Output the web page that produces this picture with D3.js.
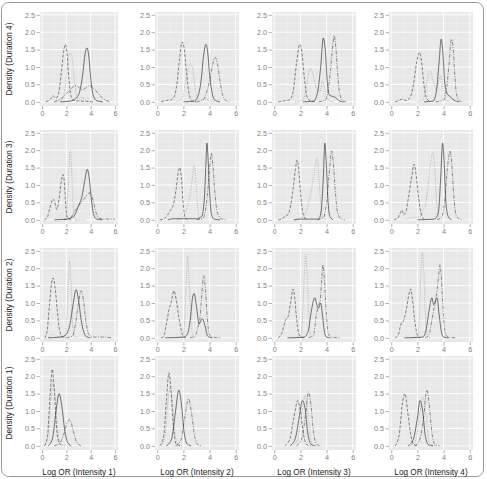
<!DOCTYPE html>
<html><head><meta charset="utf-8">
<script src="https://cdn.jsdelivr.net/npm/d3@7"></script>
<style>body{margin:0;background:#fff} svg{display:block}</style>
</head><body><svg id="c" width="487" height="479"></svg>
<script>
// ---------- DATA ----------
const durations = ["Duration 4", "Duration 3", "Duration 2", "Duration 1"];
const intensities = ["Intensity 1", "Intensity 2", "Intensity 3", "Intensity 4"];
const xTicks = [0, 2, 4, 6];
const yTicks = [0, 0.5, 1.0, 1.5, 2.0, 2.5];
const lineTypes = ["solid", "dashed", "dotted", "dotdash"];

// Duration 4 (one entry per intensity; each is a list of [logOR, density] points)
const d4Solid = [
  [[1.5,0],[2.3,0.02],[2.8,0.1],[3.1,0.3],[3.35,0.8],[3.55,1.4],[3.7,1.55],[3.85,1.3],[4.0,0.7],[4.2,0.2],[4.5,0.03],[5.0,0]],
  [[2.0,0],[2.8,0.02],[3.1,0.15],[3.35,0.6],[3.55,1.35],[3.72,1.65],[3.85,1.45],[4.0,0.8],[4.2,0.25],[4.4,0.05],[4.8,0]],
  [[2.2,0],[3.0,0.02],[3.3,0.25],[3.55,1.0],[3.75,1.83],[3.9,1.5],[4.05,0.6],[4.2,0.2],[4.5,0.15],[4.7,0.12],[5.0,0.02],[5.3,0]],
  [[2.5,0],[3.2,0.02],[3.45,0.3],[3.65,1.1],[3.82,1.8],[3.95,1.4],[4.1,0.5],[4.3,0.22],[4.5,0.15],[4.8,0.05],[5.2,0]]
];
const d4Dashed = [
  [[0.3,0],[0.7,0.08],[0.9,0.17],[1.15,0.1],[1.4,0.3],[1.6,0.9],[1.8,1.5],[1.92,1.65],[2.05,1.4],[2.2,0.7],[2.4,0.15],[2.7,0.03],[3.2,0.02],[4.2,0]],
  [[0.3,0],[0.7,0.04],[1.0,0.05],[1.3,0.15],[1.5,0.5],[1.7,1.2],[1.9,1.72],[2.05,1.55],[2.25,0.8],[2.45,0.2],[2.7,0.02],[3.0,0]],
  [[0.3,0],[0.8,0.03],[1.2,0.06],[1.45,0.3],[1.7,1.1],[1.95,1.65],[2.1,1.45],[2.3,0.7],[2.5,0.15],[2.8,0.02],[3.2,0]],
  [[0.3,0],[0.6,0.04],[0.85,0.08],[1.1,0.04],[1.4,0.1],[1.7,0.5],[1.95,1.15],[2.15,1.42],[2.3,1.2],[2.5,0.5],[2.7,0.1],[3.0,0]]
];
const d4Dotted = [
  [[1.0,0],[1.6,0.05],[1.9,0.4],[2.1,1.1],[2.3,1.4],[2.45,1.3],[2.6,0.8],[2.8,0.25],[3.0,0.08],[3.3,0.12],[3.6,0.05],[4.0,0]],
  [[1.4,0],[1.9,0.1],[2.15,0.5],[2.4,1.0],[2.55,1.1],[2.7,0.95],[2.9,0.4],[3.1,0.1],[3.4,0.05],[3.7,0.1],[4.0,0.02],[4.4,0]],
  [[1.6,0],[2.2,0.05],[2.45,0.4],[2.65,0.85],[2.8,0.95],[2.95,0.8],[3.2,0.4],[3.5,0.3],[3.7,0.6],[3.85,0.35],[4.1,0.05],[4.5,0]],
  [[2.0,0],[2.4,0.05],[2.65,0.4],[2.85,0.8],[3.0,0.88],[3.2,0.6],[3.45,0.35],[3.65,0.6],[3.78,0.75],[3.95,0.4],[4.2,0.05],[4.5,0]]
];
const d4Dotdash = [
  [[1.0,0],[1.6,0.1],[2.2,0.3],[2.7,0.46],[3.0,0.42],[3.3,0.35],[3.6,0.4],[3.9,0.47],[4.2,0.4],[4.6,0.25],[5.0,0.1],[5.6,0]],
  [[3.0,0],[3.5,0.05],[3.8,0.3],[4.0,0.6],[4.2,1.0],[4.42,1.28],[4.6,1.1],[4.8,0.6],[5.0,0.2],[5.2,0.05],[5.5,0]],
  [[3.4,0],[3.9,0.05],[4.1,0.3],[4.3,0.9],[4.5,1.7],[4.58,1.9],[4.7,1.6],[4.85,0.8],[5.0,0.25],[5.2,0.05],[5.5,0]],
  [[3.4,0],[4.0,0.05],[4.2,0.3],[4.4,1.0],[4.6,1.8],[4.72,1.6],[4.85,0.8],[5.0,0.2],[5.2,0.03],[5.5,0]]
];

// Duration 3
const d3Solid = [
  [[1.0,0],[2.0,0.02],[2.6,0.1],[3.0,0.4],[3.3,0.7],[3.5,1.1],[3.72,1.45],[3.88,1.2],[4.05,0.6],[4.25,0.15],[4.5,0.02],[5.0,0]],
  [[0.8,0],[1.2,0.03],[3.0,0.03],[3.4,0.1],[3.6,0.6],[3.72,1.6],[3.8,2.2],[3.88,1.8],[4.0,0.8],[4.15,0.15],[4.35,0.02],[4.8,0]],
  [[1.5,0],[2.0,0.02],[3.4,0.02],[3.6,0.3],[3.75,1.2],[3.87,2.2],[3.97,1.7],[4.1,0.6],[4.25,0.1],[4.5,0]],
  [[2.0,0],[3.3,0.02],[3.6,0.2],[3.78,1.2],[3.93,2.2],[4.05,1.6],[4.18,0.5],[4.35,0.1],[4.6,0]]
];
const d3Dashed = [
  [[0.2,0],[0.4,0.05],[0.65,0.35],[0.9,0.6],[1.05,0.5],[1.22,0.3],[1.4,0.6],[1.6,1.15],[1.73,1.3],[1.85,1.0],[1.95,0.4],[2.1,0.05],[2.4,0]],
  [[0.2,0],[0.5,0.02],[0.8,0.15],[1.05,0.3],[1.25,0.45],[1.45,0.9],[1.6,1.35],[1.72,1.5],[1.85,1.2],[1.98,0.5],[2.1,0.1],[2.3,0]],
  [[0.3,0],[0.6,0.03],[0.85,0.1],[1.05,0.15],[1.25,0.4],[1.45,0.9],[1.62,1.45],[1.75,1.72],[1.88,1.4],[2.05,0.6],[2.25,0.12],[2.5,0]],
  [[0.2,0],[0.5,0.05],[0.7,0.2],[0.82,0.28],[0.95,0.15],[1.1,0.2],[1.3,0.6],[1.55,1.2],[1.75,1.6],[1.9,1.3],[2.1,0.6],[2.35,0.1],[2.6,0]]
];
const d3Dotted = [
  [[1.5,0],[1.95,0.05],[2.1,0.6],[2.22,1.5],[2.32,2.0],[2.42,1.6],[2.52,0.7],[2.65,0.1],[2.8,0],[3.5,0]],
  [[1.5,0],[1.9,0.05],[2.2,0.25],[2.45,0.6],[2.65,1.1],[2.82,1.55],[2.95,1.2],[3.05,0.5],[3.2,0.05],[3.5,0]],
  [[1.5,0],[2.2,0.08],[2.45,0.25],[2.7,0.6],[2.95,1.1],[3.15,1.6],[3.27,1.78],[3.4,1.3],[3.55,0.5],[3.7,0.1],[4.0,0]],
  [[1.0,0],[1.5,0.05],[2.2,0.08],[2.4,0.27],[2.6,0.4],[2.8,0.9],[3.0,1.6],[3.18,1.95],[3.32,1.5],[3.45,0.6],[3.6,0.1],[3.9,0]]
];
const d3Dotdash = [
  [[1.8,0],[2.3,0.05],[2.7,0.25],[3.1,0.45],[3.5,0.62],[3.95,0.78],[4.2,0.55],[4.45,0.2],[4.7,0.05],[5.2,0.02],[6.0,0.02]],
  [[3.0,0],[3.5,0.05],[3.7,0.3],[3.9,1.0],[4.05,1.7],[4.13,1.92],[4.25,1.6],[4.4,0.8],[4.6,0.2],[4.9,0.03],[5.3,0]],
  [[3.3,0],[3.8,0.08],[4.0,0.5],[4.2,1.3],[4.38,1.98],[4.5,1.7],[4.65,0.9],[4.85,0.2],[5.1,0.03],[5.4,0]],
  [[3.5,0],[3.9,0.1],[4.1,0.6],[4.3,1.5],[4.5,1.98],[4.63,1.6],[4.78,0.7],[4.95,0.15],[5.2,0.02],[5.5,0]]
];

// Duration 2
const d2Solid = [
  [[0.5,0],[1.5,0.02],[2.0,0.1],[2.3,0.4],[2.55,0.95],[2.8,1.38],[3.0,1.1],[3.2,0.55],[3.45,0.15],[3.7,0.02],[4.0,0]],
  [[0.6,0],[2.0,0.02],[2.3,0.1],[2.55,0.6],[2.72,1.2],[2.82,1.27],[3.0,0.9],[3.2,0.4],[3.45,0.55],[3.65,0.35],[3.85,0.05],[4.2,0]],
  [[1.0,0],[2.3,0.02],[2.6,0.2],[2.85,0.8],[3.1,1.15],[3.3,0.9],[3.38,0.85],[3.55,1.0],[3.7,0.6],[3.85,0.15],[4.0,0.02],[4.3,0]],
  [[1.0,0],[2.4,0.02],[2.65,0.2],[2.9,0.8],[3.1,1.15],[3.25,0.95],[3.5,1.15],[3.65,0.7],[3.85,0.15],[4.0,0.02],[4.4,0]]
];
const d2Dashed = [
  [[0.2,0],[0.4,0.15],[0.6,0.9],[0.8,1.6],[0.9,1.72],[1.05,1.5],[1.25,0.8],[1.45,0.2],[1.7,0.02],[2.0,0]],
  [[0.3,0],[0.5,0.05],[0.7,0.4],[0.9,0.8],[1.05,1.0],[1.28,1.35],[1.45,1.1],[1.65,0.6],[1.85,0.2],[2.0,0.02],[2.3,0]],
  [[0.3,0],[0.6,0.15],[0.85,0.5],[1.05,0.6],[1.25,1.0],[1.44,1.4],[1.55,1.2],[1.7,0.6],[1.85,0.15],[2.05,0.02],[2.3,0]],
  [[0.3,0],[0.55,0.1],[0.75,0.4],[0.95,0.5],[1.15,0.8],[1.35,1.25],[1.49,1.4],[1.62,1.1],[1.8,0.5],[1.98,0.1],[2.2,0]]
];
const d2Dotted = [
  [[0.3,0],[0.7,0.05],[0.9,0.12],[1.1,0.05],[1.9,0.03],[2.05,0.6],[2.17,1.7],[2.27,2.2],[2.38,1.6],[2.5,0.5],[2.65,0.05],[3.0,0]],
  [[1.5,0],[1.95,0.05],[2.1,0.5],[2.22,1.6],[2.32,2.35],[2.42,1.8],[2.55,0.7],[2.7,0.1],[2.9,0]],
  [[1.6,0],[2.0,0.03],[2.15,0.5],[2.3,1.8],[2.41,2.4],[2.52,1.8],[2.65,0.6],[2.8,0.05],[3.0,0]],
  [[1.5,0],[2.05,0.05],[2.15,0.6],[2.27,1.9],[2.38,2.45],[2.5,1.8],[2.62,0.6],[2.75,0.05],[3.0,0]]
];
const d2Dotdash = [
  [[2.0,0],[2.5,0.05],[2.75,0.4],[3.0,1.0],[3.22,1.35],[3.4,1.1],[3.6,0.5],[3.85,0.1],[4.2,0.02],[5.0,0.02],[5.8,0]],
  [[2.5,0],[2.9,0.05],[3.1,0.3],[3.25,0.5],[3.4,1.2],[3.55,1.78],[3.68,1.4],[3.82,0.6],[3.98,0.1],[4.2,0.02],[4.9,0]],
  [[2.6,0],[3.0,0.08],[3.2,0.6],[3.35,0.9],[3.5,1.05],[3.62,1.6],[3.72,2.1],[3.85,1.6],[4.0,0.6],[4.15,0.1],[4.4,0.02],[5.0,0]],
  [[2.6,0],[2.9,0.1],[3.1,0.5],[3.3,0.9],[3.45,1.2],[3.6,1.7],[3.73,2.1],[3.85,1.6],[4.0,0.6],[4.15,0.1],[4.4,0.02],[5.0,0]]
];

// Duration 1
const d1Solid = [
  [[0.5,0],[0.85,0.2],[1.15,1.0],[1.4,1.5],[1.6,1.2],[1.85,0.5],[2.1,0.1],[2.4,0]],
  [[0.7,0],[1.1,0.2],[1.4,1.0],[1.65,1.6],[1.85,1.2],[2.05,0.4],[2.3,0.05],[2.6,0]],
  [[1.2,0],[1.6,0.2],[1.9,0.8],[2.15,1.3],[2.35,1.1],[2.55,0.4],[2.8,0.05],[3.1,0]],
  [[1.3,0],[1.7,0.2],[2.0,0.8],[2.2,1.3],[2.4,1.0],[2.6,0.3],[2.85,0.03],[3.2,0]]
];
const d1Dashed = [
  [[0.2,0],[0.45,0.3],[0.65,1.4],[0.85,2.2],[1.0,1.6],[1.2,0.5],[1.4,0.08],[1.7,0]],
  [[0.2,0],[0.5,0.3],[0.7,1.3],[0.9,2.1],[1.05,1.6],[1.25,0.5],[1.45,0.05],[1.8,0]],
  [[0.8,0],[1.2,0.2],[1.5,0.8],[1.8,1.3],[2.0,1.0],[2.25,0.3],[2.5,0.03],[2.8,0]],
  [[0.3,0],[0.6,0.3],[0.85,1.2],[1.05,1.5],[1.25,1.0],[1.5,0.3],[1.75,0.03],[2.1,0]]
];
const d1Dotted = [
  [[0.2,0],[0.5,0.3],[0.75,1.4],[0.95,1.8],[1.1,1.3],[1.3,0.4],[1.55,0.05],[1.9,0]],
  [[0.3,0],[0.6,0.3],[0.8,1.2],[1.0,1.7],[1.15,1.3],[1.35,0.4],[1.6,0.05],[1.9,0]],
  [[1.4,0],[1.8,0.2],[2.1,0.9],[2.35,1.45],[2.55,1.0],[2.75,0.3],[3.0,0.02],[3.3,0]],
  [[1.5,0],[1.9,0.2],[2.2,1.0],[2.45,1.4],[2.65,0.9],[2.85,0.2],[3.1,0.02],[3.4,0]]
];
const d1Dotdash = [
  [[1.0,0],[1.5,0.1],[1.85,0.4],[2.1,0.7],[2.3,0.75],[2.55,0.45],[2.85,0.1],[3.2,0]],
  [[1.4,0],[1.8,0.15],[2.1,0.8],[2.4,1.35],[2.6,1.0],[2.85,0.3],[3.1,0.03],[3.4,0]],
  [[1.7,0],[2.1,0.2],[2.4,0.9],[2.62,1.55],[2.8,1.2],[3.0,0.4],[3.25,0.04],[3.6,0]],
  [[1.8,0],[2.2,0.2],[2.5,0.9],[2.72,1.6],[2.9,1.2],[3.1,0.4],[3.35,0.04],[3.7,0]]
];

// table built from the named arrays
const curveTable = [
  {solid: d4Solid, dashed: d4Dashed, dotted: d4Dotted, dotdash: d4Dotdash},
  {solid: d3Solid, dashed: d3Dashed, dotted: d3Dotted, dotdash: d3Dotdash},
  {solid: d2Solid, dashed: d2Dashed, dotted: d2Dotted, dotdash: d2Dotdash},
  {solid: d1Solid, dashed: d1Dashed, dotted: d1Dotted, dotdash: d1Dotdash}
];

// ---------- LAYOUT / STYLE ----------
const colX = [[40,118],[155,239],[272,356],[389,473]];
const rowY = [[12,106],[130,224],[248,342],[356,450]];
const xDomain = [-0.17, 6.25];
const yDomain = [-0.12, 2.58];
const styles = {
  solid:   {stroke:"#2a2a2a", dash:null,        w:0.65},
  dashed:  {stroke:"#444444", dash:"3,1.6",     w:0.65},
  dotted:  {stroke:"#a8a8a8", dash:"1,1.3",     w:0.8},
  dotdash: {stroke:"#505050", dash:"3.5,1.4,1,1.4", w:0.65}
};
const font = "'Liberation Sans', Arial, Helvetica, sans-serif";

const svg = d3.select("#c");
svg.append("rect").attr("x",1.5).attr("y",2.5).attr("width",482).attr("height",474)
  .attr("rx",7).attr("fill","none").attr("stroke","#9a9a9a").attr("stroke-width",1);

durations.forEach((dur, r) => {
  intensities.forEach((inten, c) => {
    const x = d3.scaleLinear().domain(xDomain).range(colX[c]);
    const y = d3.scaleLinear().domain(yDomain).range([rowY[r][1], rowY[r][0]]);
    const g = svg.append("g");
    g.append("rect").attr("x",colX[c][0]).attr("y",rowY[r][0])
      .attr("width",colX[c][1]-colX[c][0]).attr("height",rowY[r][1]-rowY[r][0]).attr("fill","#e8e8e8");
    const xMinor = [1,3,5], yMinor = [0.25,0.75,1.25,1.75,2.25];
    g.selectAll(null).data(xMinor).join("line").attr("x1",d=>x(d)).attr("x2",d=>x(d))
      .attr("y1",rowY[r][0]).attr("y2",rowY[r][1]).attr("stroke","#f2f2f2").attr("stroke-width",0.5);
    g.selectAll(null).data(yMinor).join("line").attr("y1",d=>y(d)).attr("y2",d=>y(d))
      .attr("x1",colX[c][0]).attr("x2",colX[c][1]).attr("stroke","#f2f2f2").attr("stroke-width",0.5);
    g.selectAll(null).data(xTicks).join("line").attr("x1",d=>x(d)).attr("x2",d=>x(d))
      .attr("y1",rowY[r][0]).attr("y2",rowY[r][1]).attr("stroke","#fff").attr("stroke-width",0.9);
    g.selectAll(null).data(yTicks).join("line").attr("y1",d=>y(d)).attr("y2",d=>y(d))
      .attr("x1",colX[c][0]).attr("x2",colX[c][1]).attr("stroke","#fff").attr("stroke-width",0.9);

    const ax = g.append("g").attr("transform",`translate(0,${rowY[r][1]})`)
      .call(d3.axisBottom(x).tickValues(xTicks).tickFormat(d3.format("d")).tickSize(3.5).tickPadding(1.5));
    const ay = g.append("g").attr("transform",`translate(${colX[c][0]},0)`)
      .call(d3.axisLeft(y).tickValues(yTicks).tickFormat(d3.format(".1f")).tickSize(3.5).tickPadding(1.5));
    [ax, ay].forEach(a => {
      a.select(".domain").remove();
      a.selectAll("line").attr("stroke","#7f7f7f").attr("stroke-width",0.6);
      a.selectAll("text").attr("fill","#808080").style("font-family",font).style("font-size","7.2px");
    });

    const line = d3.line().x(d=>x(d[0])).y(d=>y(d[1])).curve(d3.curveMonotoneX);
    const clipId = `clip${r}${c}`;
    g.append("clipPath").attr("id",clipId).append("rect").attr("x",colX[c][0]).attr("y",rowY[r][0])
      .attr("width",colX[c][1]-colX[c][0]).attr("height",rowY[r][1]-rowY[r][0]);
    const cg = g.append("g").attr("clip-path",`url(#${clipId})`);
    ["dotted","dotdash","dashed","solid"].forEach(t => {
      const s = styles[t];
      cg.append("path").datum(curveTable[r][t][c]).attr("d",line)
        .attr("fill","none").attr("stroke",s.stroke).attr("stroke-width",s.w)
        .attr("stroke-dasharray",s.dash);
    });

    if (c === 0) {
      const cy = (rowY[r][0]+rowY[r][1])/2;
      svg.append("text").attr("transform",`translate(12,${cy}) rotate(-90)`)
        .attr("text-anchor","middle").style("font-family",font).style("font-size","8.2px").attr("fill","#222")
        .text(`Density (${dur})`);
    }
    if (r === 3) {
      svg.append("text").attr("x",(colX[c][0]+colX[c][1])/2).attr("y",474.5)
        .attr("text-anchor","middle").style("font-family",font).style("font-size","8.2px").attr("fill","#222")
        .text(`Log OR (${inten})`);
    }
  });
});
</script></body></html>
